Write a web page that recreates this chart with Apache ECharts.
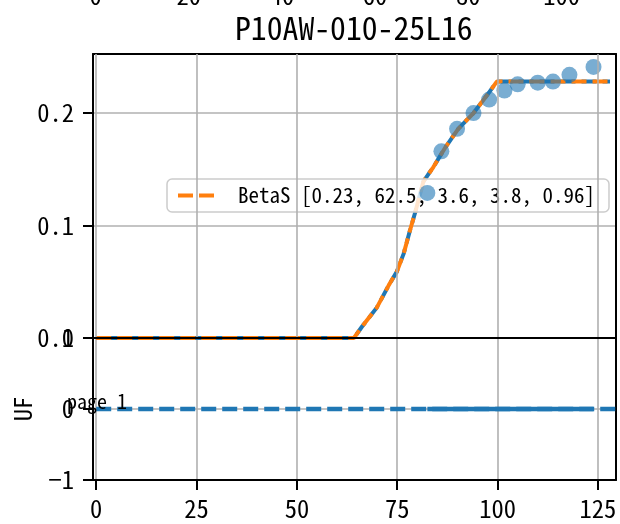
<!DOCTYPE html>
<html>
<head>
<meta charset="utf-8">
<script src="https://cdn.jsdelivr.net/npm/echarts@6/dist/echarts.min.js"></script>
<style>html,body{margin:0;padding:0;background:#fff;}#c{width:620px;height:524px;}</style>
</head>
<body>
<div id="c"></div>
<script>
// ---- data ----
const titleText = 'P10AW-010-25L16';
const fitName = 'BetaS [0.23, 62.5, 3.6, 3.8, 0.96]';
const fitX = [0, 64.2, 66.2, 69.9, 72.9, 74.9, 76.6, 78.2, 79.5, 81.5, 84.0, 86.9, 90.2, 94.0, 97.4, 99.8, 128];
const fitY = [0, 0, 0.010, 0.027, 0.047, 0.059, 0.075, 0.096, 0.112, 0.139, 0.152, 0.169, 0.186, 0.200, 0.216, 0.228, 0.228];
const pointX = [82.5, 86.0, 89.9, 94.0, 97.9, 101.7, 105.0, 110.0, 113.8, 117.9, 123.9];
const pointY = [0.129, 0.166, 0.186, 0.200, 0.212, 0.220, 0.2255, 0.227, 0.228, 0.234, 0.241];
const ufX = [0, 129.5];
const ufY = [0, 0];
const ufDenseX = [82.5, 86.0, 89.9, 94.0, 97.9, 101.7, 105.0, 110.0, 113.8, 117.9, 123.9];
const ufDenseY = [0, 0, 0, 0, 0, 0, 0, 0, 0, 0, 0];
const xTicks = [0, 25, 50, 75, 100, 125];
const xTickLabels = ['0', '25', '50', '75', '100', '125'];
const upperYTicks = [0, 0.1, 0.2];
const upperYLabels = ['0.0', '0.1', '0.2'];
const lowerYTicks = [-1, 0, 1];
const lowerYLabels = ['\u22121', '0', '1'];
const ghostTicks = [0, 20, 40, 60, 80, 100];
const ghostLabels = ['0', '20', '40', '60', '80', '100'];
const pageText = 'page 1';
const yNameLower = 'UF';

// ---- styling ----
const FONT = "'Noto Sans Mono CJK SC', 'DejaVu Sans Mono', monospace";
const BLUE = '#1f77b4', ORANGE = '#ff7f0e';
const zip = (a, b) => a.map((v, i) => [v, b[i]]);
const lookup = (ticks, labels) => (v) => {
  const i = ticks.findIndex(t => Math.abs(t - v) < 1e-9);
  return i < 0 ? '' : labels[i];
};
const spine = { show: true, onZero: false, lineStyle: { color: '#000', width: 2 } };
const split = { show: true, lineStyle: { color: '#b0b0b0', width: 1.6 } };
const tick = (vals) => ({ show: true, inside: false, length: 10, customValues: vals, lineStyle: { color: '#000', width: 2 } });
const label = (vals, labels, margin) => ({ show: true, customValues: vals, formatter: lookup(vals, labels), margin: margin, fontFamily: FONT, fontSize: 24.5, color: '#000' });
const XMIN = -0.8, XMAX = 129.5;

const chart = echarts.init(document.getElementById('c'), null, { renderer: 'canvas' });
chart.setOption({
  animation: false,
  backgroundColor: '#fff',
  title: { text: titleText, left: 235, top: 12, padding: 0,
    textStyle: { fontFamily: FONT, fontSize: 31.7, fontWeight: 'normal', color: '#000' } },
  legend: {
    data: [fitName], left: 167, top: 179, padding: [6, 14, 6, 9],
    itemWidth: 42, itemHeight: 14, selectedMode: false,
    itemStyle: { opacity: 0 },
    lineStyle: { opacity: 1, width: 4 },
    backgroundColor: 'rgba(255,255,255,0.8)', borderColor: '#cccccc', borderWidth: 1.5, borderRadius: 5,
    textStyle: { fontFamily: FONT, fontSize: 21, color: '#000', padding: [0, 0, 0, 13] }
  },
  grid: [
    { left: 93, right: 4, top: 54, height: 284 },
    { left: 93, right: 4, top: 338, height: 142 },
    { left: 95.5, width: 512.6, top: -58, height: 20 }
  ],
  xAxis: [
    { type: 'value', gridIndex: 0, min: XMIN, max: XMAX, position: 'bottom', axisLine: spine, z: 5,
      axisTick: { show: false, customValues: xTicks }, axisLabel: { show: false, customValues: xTicks }, splitLine: split },
    { type: 'value', gridIndex: 0, min: XMIN, max: XMAX, position: 'top', axisLine: spine,
      axisTick: { show: false }, axisLabel: { show: false }, splitLine: { show: false } },
    { type: 'value', gridIndex: 1, min: XMIN, max: XMAX, position: 'bottom', axisLine: spine,
      axisTick: tick(xTicks), axisLabel: label(xTicks, xTickLabels, 16), splitLine: split },
    { type: 'value', gridIndex: 1, min: XMIN, max: XMAX, position: 'top', axisLine: spine, z: 5,
      axisTick: { show: false }, axisLabel: { show: false }, splitLine: { show: false } },
    { type: 'value', gridIndex: 2, min: 0, max: 110, position: 'bottom', axisLine: { show: false, onZero: false },
      axisTick: { show: false, customValues: ghostTicks }, axisLabel: label(ghostTicks, ghostLabels, 16), splitLine: { show: false } }
  ],
  yAxis: [
    { type: 'value', gridIndex: 0, min: 0, max: 0.2525, position: 'left', axisLine: spine,
      axisTick: tick(upperYTicks), axisLabel: label(upperYTicks, upperYLabels, 19), splitLine: split },
    { type: 'value', gridIndex: 0, min: 0, max: 0.2525, position: 'right', axisLine: spine,
      axisTick: { show: false }, axisLabel: { show: false }, splitLine: { show: false } },
    { type: 'value', gridIndex: 1, min: -1, max: 1, position: 'left', axisLine: spine,
      axisTick: tick(lowerYTicks), axisLabel: label(lowerYTicks, lowerYLabels, 19), splitLine: split,
      name: yNameLower, nameLocation: 'middle', nameRotate: 90, nameGap: 58,
      nameTextStyle: { fontFamily: FONT, fontSize: 24.5, color: '#000' } },
    { type: 'value', gridIndex: 1, min: -1, max: 1, position: 'right', axisLine: spine,
      axisTick: { show: false }, axisLabel: { show: false }, splitLine: { show: false } },
    { type: 'value', gridIndex: 2, show: false }
  ],
  series: [
    { name: 'fitBlue', type: 'line', xAxisIndex: 0, yAxisIndex: 0, data: zip(fitX, fitY), symbol: 'none', z: 2,
      lineStyle: { color: BLUE, width: 4, type: [15, 6], dashOffset: 11 } },
    { name: fitName, type: 'line', xAxisIndex: 0, yAxisIndex: 0, data: zip(fitX, fitY), symbol: 'none', z: 3,
      itemStyle: { color: ORANGE }, lineStyle: { color: ORANGE, width: 4, type: [15, 6] } },
    { name: 'points', type: 'scatter', xAxisIndex: 0, yAxisIndex: 0, data: zip(pointX, pointY), symbolSize: 16, z: 4,
      itemStyle: { color: BLUE, opacity: 0.6 } },
    { name: 'uf', type: 'line', xAxisIndex: 2, yAxisIndex: 2, data: zip(ufX, ufY), symbol: 'none', z: 2,
      lineStyle: { color: BLUE, width: 4.5, type: [15, 6] } },
    { name: 'ufDense', type: 'line', xAxisIndex: 2, yAxisIndex: 2, data: zip(ufDenseX, ufDenseY), symbol: 'none', z: 3,
      lineStyle: { color: BLUE, width: 4.5, type: 'solid' } }
  ],
  graphic: [
    { type: 'text', left: 67, top: 391, z: 100,
      style: { text: pageText, fontFamily: FONT, fontSize: 20, fill: '#000' } }
  ]
});
</script>
</body>
</html>
